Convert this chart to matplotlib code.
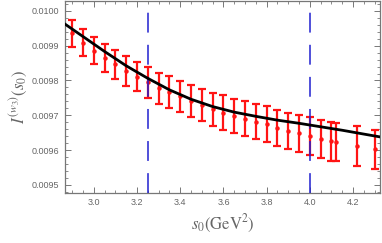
import numpy as np
import matplotlib
matplotlib.use("Agg")
import matplotlib.pyplot as plt
from matplotlib.ticker import MultipleLocator, FormatStrFormatter

# error-bar data
s0_pts = [2.90, 2.95, 3.00, 3.05, 3.10, 3.15, 3.20, 3.25, 3.30, 3.35,
          3.40, 3.45, 3.50, 3.55, 3.60, 3.65, 3.70, 3.75, 3.80, 3.85,
          3.90, 3.95, 4.00, 4.05, 4.10, 4.12, 4.22, 4.30]
i_pts = [0.009935, 0.009909, 0.009886, 0.009865, 0.009846, 0.009828, 0.009811,
         0.009795, 0.009777, 0.009766, 0.009754, 0.009741, 0.009729, 0.009717,
         0.009708, 0.009699, 0.009690, 0.009682, 0.009675, 0.009664, 0.009656,
         0.009649, 0.009641, 0.009631, 0.009626, 0.009623, 0.009611, 0.009602]
i_err = [0.000039, 0.000040, 0.000040, 0.000041, 0.000041, 0.000043, 0.000042,
         0.000044, 0.000044, 0.000046, 0.000045, 0.000046, 0.000046, 0.000048,
         0.000049, 0.000049, 0.000050, 0.000050, 0.000051, 0.000052, 0.000052,
         0.000053, 0.000054, 0.000055, 0.000056, 0.000055, 0.000057, 0.000057]

# black curve samples
s0_curve = [2.866, 2.95, 3.05, 3.15, 3.25, 3.35, 3.45, 3.55, 3.65, 3.75,
            3.85, 3.95, 4.05, 4.15, 4.25, 4.324]
i_curve = [0.009962, 0.009926, 0.009883, 0.009842, 0.009806, 0.009773,
           0.009746, 0.009725, 0.009709, 0.009697, 0.009686, 0.009677,
           0.009667, 0.009657, 0.009646, 0.009638]

# vertical window markers
s0_window = [3.25, 4.0]

plt.rcParams['mathtext.fontset'] = 'stix'

fig = plt.figure(figsize=(3.82, 2.43), dpi=100)
ax = fig.add_axes([0.170, 0.206, 0.825, 0.791])

ax.errorbar(s0_pts, i_pts, yerr=i_err, fmt='o', color='#ff1414',
            markersize=2.2, elinewidth=1.6, capsize=2.8, capthick=1.6, zorder=2)
for s in s0_window:
    ax.axvline(s, color='#2020d0', lw=1.1, dashes=(13, 8), zorder=3)
ax.plot(s0_curve, i_curve, color='black', lw=2.0, zorder=4)

ax.set_xlim(2.866, 4.325)
ax.set_ylim(0.009477, 0.010029)

ax.xaxis.set_major_locator(MultipleLocator(0.2))
ax.xaxis.set_minor_locator(MultipleLocator(0.05))
ax.yaxis.set_major_locator(MultipleLocator(0.0001))
ax.yaxis.set_minor_locator(MultipleLocator(0.00002))
ax.xaxis.set_major_formatter(FormatStrFormatter('%.1f'))
ax.yaxis.set_major_formatter(FormatStrFormatter('%.4f'))

gray = '#666666'
for sp in ax.spines.values():
    sp.set_color('#777777')
    sp.set_linewidth(0.9)
ax.tick_params(which='both', direction='in', top=True, right=True,
               color='#777777', labelcolor=gray)
ax.tick_params(which='major', length=4, width=0.7, labelsize=6.5, pad=4)
ax.tick_params(which='minor', length=2, width=0.6)
for lab in ax.get_xticklabels() + ax.get_yticklabels():
    lab.set_family('Liberation Sans')

ax.set_xlabel(r'$s_0(\mathrm{GeV}^2)$', fontsize=12, color=gray, labelpad=4)
ax.set_ylabel(r'$I^{(w_3)}(s_0)$', fontsize=12, color=gray, labelpad=2)

fig.savefig('out.png', dpi=100)
